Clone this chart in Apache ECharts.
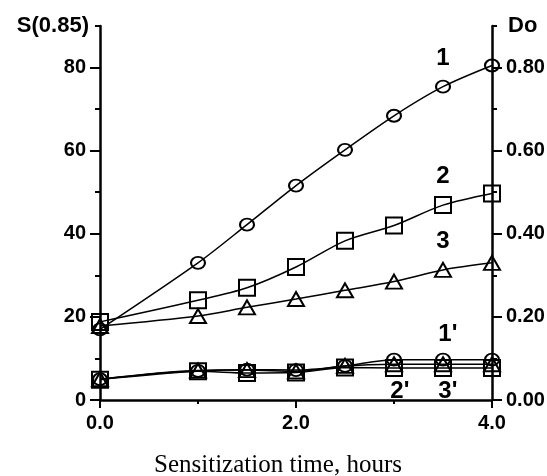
<!DOCTYPE html>
<html>
<head>
<meta charset="utf-8">
<script src="https://cdn.jsdelivr.net/npm/echarts@6/dist/echarts.min.js"></script>
<style>
html,body{margin:0;padding:0;background:#fff;}
#c{width:547px;height:476px;}
</style>
</head>
<body>
<div id="c"></div>
<script>
// ---- data ----
const hours = [0, 1.0, 1.5, 2.0, 2.5, 3.0, 3.5, 4.0];
// S(0.85), left axis
const s1 = [17.0, 33.0, 42.2, 51.6, 60.2, 68.4, 75.4, 80.5];
const s2 = [18.8, 24.0, 27.0, 32.0, 38.3, 42.0, 46.9, 49.7];
const s3 = [17.8, 20.2, 22.3, 24.3, 26.4, 28.5, 31.3, 33.0];
// Do, right axis
const d1 = [0.050, 0.070, 0.073, 0.072, 0.082, 0.097, 0.097, 0.097];
const d2 = [0.049, 0.069, 0.065, 0.066, 0.078, 0.077, 0.077, 0.077];
const d3 = [0.050, 0.071, 0.072, 0.069, 0.082, 0.086, 0.086, 0.086];
// tick labels
const xMajor = [0, 2, 4];
const xMinor = [1, 3];
const sMajor = [0, 20, 40, 60, 80];
const sMinor = [10, 30, 50, 70, 90];
const dMajor = [0, 0.2, 0.4, 0.6, 0.8];
const dMinor = [0.1, 0.3, 0.5, 0.7, 0.9];
// curve labels [text, hours, value]
const curveLabels = [
  ['1', 3.5, 82.3],
  ['2', 3.5, 53.9],
  ['3', 3.5, 38.1],
  ["1'", 3.55, 0.158],
  ["2'", 3.06, 0.020],
  ["3'", 3.55, 0.020]
];

const pair = (ys) => hours.map((h, i) => [h, ys[i]]);
const font = '"Liberation Sans", Arial, sans-serif';
const black = '#000';

function series(ys, yIdx, symbol, size, labels) {
  return {
    type: 'line',
    data: pair(ys),
    xAxisIndex: 0,
    yAxisIndex: yIdx,
    smooth: 0.3,
    symbol: symbol,
    symbolSize: size,
    showSymbol: true,
    lineStyle: {color: black, width: 1.5},
    itemStyle: {color: 'rgba(0,0,0,0)', borderColor: black, borderWidth: 2},
    emphasis: {disabled: true},
    markPoint: labels.length ? {
      symbol: 'circle', symbolSize: 1,
      itemStyle: {color: 'rgba(0,0,0,0)'},
      label: {show: true, position: 'inside', color: black, fontSize: 24, fontWeight: 'bold', fontFamily: font,
              formatter: p => p.name},
      data: labels.map(l => ({name: l[0], coord: [l[1], l[2]]}))
    } : undefined
  };
}

const tickStyle = {color: black, width: 2};
const chart = echarts.init(document.getElementById('c'), null, {renderer: 'canvas'});
chart.setOption({
  animation: false,
  backgroundColor: '#fff',
  grid: {left: 100, right: 55, top: 26, bottom: 76, containLabel: false, outerBoundsMode: 'none'},
  xAxis: [
    {type: 'value', min: 0, max: 4, interval: 1,
     axisLine: {lineStyle: {color: black, width: 2.5}},
     axisTick: {customValues: xMajor, length: 8, lineStyle: tickStyle},
     axisLabel: {customValues: xMajor, formatter: v => v.toFixed(1), margin: 13, color: black,
                 fontSize: 20, fontWeight: 'bold', fontFamily: font},
     splitLine: {show: false}},
    {type: 'value', min: 0, max: 4, interval: 1, position: 'bottom',
     axisLine: {show: false},
     axisTick: {customValues: xMinor, length: 4, lineStyle: tickStyle},
     axisLabel: {show: false}, splitLine: {show: false}}
  ],
  yAxis: [
    {type: 'value', min: 0, max: 90, interval: 10, position: 'left',
     name: 'S(0.85)', nameLocation: 'end', nameGap: 0,
     nameTextStyle: {color: black, fontSize: 22, fontWeight: 'bold', fontFamily: font,
                     align: 'right', verticalAlign: 'middle', padding: [0, 11, 0, 0]},
     axisLine: {show: true, lineStyle: {color: black, width: 2.5}},
     axisTick: {show: true, customValues: sMajor, length: 10, lineStyle: tickStyle},
     axisLabel: {customValues: sMajor, margin: 14, color: black, fontSize: 20, fontWeight: 'bold', fontFamily: font},
     splitLine: {show: false}},
    {type: 'value', min: 0, max: 90, interval: 10, position: 'left',
     axisLine: {show: false},
     axisTick: {show: true, customValues: sMinor, length: 5, lineStyle: tickStyle},
     axisLabel: {show: false}, splitLine: {show: false}},
    {type: 'value', min: 0, max: 0.9, interval: 0.1, position: 'right',
     name: 'Do', nameLocation: 'end', nameGap: 0,
     nameTextStyle: {color: black, fontSize: 22, fontWeight: 'bold', fontFamily: font,
                     align: 'left', verticalAlign: 'middle', padding: [0, 0, 0, 16]},
     axisLine: {show: true, lineStyle: {color: black, width: 2.5}},
     axisTick: {show: true, customValues: dMajor, length: 10, lineStyle: tickStyle},
     axisLabel: {customValues: dMajor, formatter: v => v.toFixed(2), margin: 14, color: black,
                 fontSize: 20, fontWeight: 'bold', fontFamily: font},
     splitLine: {show: false}},
    {type: 'value', min: 0, max: 0.9, interval: 0.1, position: 'right',
     axisLine: {show: false},
     axisTick: {show: true, customValues: dMinor, length: 5, lineStyle: tickStyle},
     axisLabel: {show: false}, splitLine: {show: false}}
  ],
  graphic: [{
    type: 'text', x: 278, y: 465,
    style: {text: 'Sensitization time, hours', fill: black, textAlign: 'center', textVerticalAlign: 'middle',
            font: '25px "Liberation Serif", "Times New Roman", serif'}
  }],
  series: [
    series(s1, 0, 'circle', [14, 12], curveLabels.filter(l => l[0] === '1')),
    series(s2, 0, 'rect', [16, 16], curveLabels.filter(l => l[0] === '2')),
    series(s3, 0, 'triangle', [16, 14], curveLabels.filter(l => l[0] === '3')),
    series(d1, 2, 'circle', [14, 12], curveLabels.filter(l => l[0] === "1'")),
    series(d2, 2, 'rect', [16, 16], curveLabels.filter(l => l[0] === "2'")),
    series(d3, 2, 'triangle', [16, 14], curveLabels.filter(l => l[0] === "3'"))
  ]
});
</script>
</body>
</html>
